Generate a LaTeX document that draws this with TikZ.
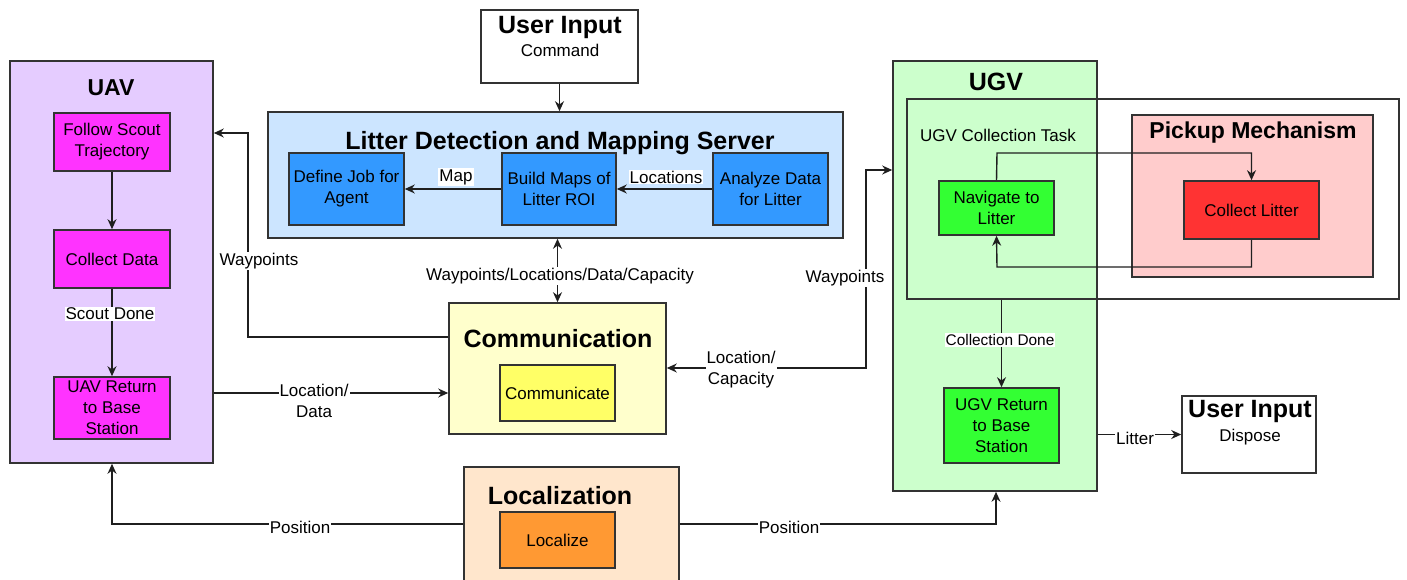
\documentclass[tikz,border=0pt]{standalone}
\usepackage{fontspec}
\setmainfont{Liberation Sans}
\usetikzlibrary{arrows.meta}
\definecolor{uavbg}{HTML}{E5CCFF}
\definecolor{uavin}{HTML}{FF33FF}
\definecolor{srvbg}{HTML}{CCE5FF}
\definecolor{srvin}{HTML}{3399FF}
\definecolor{combg}{HTML}{FFFFCC}
\definecolor{comin}{HTML}{FFFF66}
\definecolor{locbg}{HTML}{FFE6CC}
\definecolor{locin}{HTML}{FF9933}
\definecolor{ugvbg}{HTML}{CCFFCC}
\definecolor{ugvin}{HTML}{33FF33}
\definecolor{pkbg}{HTML}{FFCCCC}
\definecolor{pkin}{HTML}{FF3333}
\tikzset{
 box/.style={draw=black!80, line width=1.6pt, inner sep=0pt, align=center, font=\fontsize{17}{21}\selectfont},
 ttl/.style={font=\fontsize{25}{28}\bfseries\selectfont, inner sep=0pt},
 txt/.style={font=\fontsize{17}{21}\selectfont, inner sep=0pt, align=center},
 lbl/.style={font=\fontsize{17}{21}\selectfont, fill=white, inner sep=1pt, align=center},
 con/.style={draw=black!88, line width=1.4pt, -{Stealth[length=10pt,width=9pt]}},
 dcon/.style={draw=black!88, line width=1.4pt, {Stealth[length=10pt,width=9pt]}-{Stealth[length=10pt,width=9pt]}},
}
\newcommand\mybox[7]{\node[box,#6,minimum width={(#4-#2)*1pt},minimum height={(#5-#3)*1pt}] (#1) at ({(#2+#4)/2},{(#3+#5)/2}) {#7};}
\begin{document}
\begin{tikzpicture}[x=1pt,y=-1pt]
\clip (0,0) rectangle (1407,580);
\fill[white] (0,0) rectangle (1407,580);
% UAV
\mybox{uav}{10}{61}{213}{463}{fill=uavbg}{}
\node[ttl,font=\fontsize{23}{26}\bfseries\selectfont] (uavT) at (111,88) {UAV};
\mybox{fst}{54}{113}{170}{171}{fill=uavin}{Follow Scout\\Trajectory}
\mybox{cd}{54}{230}{170}{288}{fill=uavin}{Collect Data}
\mybox{uret}{54}{377}{170}{439}{fill=uavin}{UAV Return\\to Base\\Station}
% User input top
\mybox{ui1}{481}{10}{638}{83}{fill=white}{}
\node[ttl] (ui1T) at (560,27) {User Input};
\node[txt] (ui1C) at (560,50) {Command};
% Server
\mybox{srv}{268}{112}{843}{238}{fill=srvbg}{}
\node[ttl] (srvT) at (560,143) {Litter Detection and Mapping Server};
\mybox{dj}{289}{153}{404}{225}{fill=srvin}{Define Job for\\Agent}
\mybox{bm}{502}{153}{616}{225}{fill=srvin}{Build Maps of\\Litter ROI}
\mybox{ad}{713}{153}{828}{225}{fill=srvin}{Analyze Data\\for Litter}
% Communication
\mybox{comm}{449}{303}{666}{434}{fill=combg}{}
\node[ttl] (commT) at (558,339) {Communication};
\mybox{cm}{500}{365}{615}{421}{fill=comin}{Communicate}
% Localization
\mybox{loc}{464}{467}{679}{590}{fill=locbg}{}
\node[ttl] (locT) at (560,496) {Localization};
\mybox{lz}{500}{512}{615}{568}{fill=locin}{Localize}
% UGV
\mybox{ugv}{893}{61}{1097}{491}{fill=ugvbg}{}
\node[ttl] (ugvT) at (996,82) {UGV};
\mybox{task}{907}{99}{1399}{299}{}{}
\node[txt] (taskT) at (998,135) {UGV Collection Task};
\mybox{pk}{1132}{115}{1373}{277}{fill=pkbg}{}
\node[ttl,font=\fontsize{23}{26}\bfseries\selectfont] (pkT) at (1253,133) {Pickup Mechanism};
\mybox{nav}{939}{181}{1054}{235}{fill=ugvin}{Navigate to\\Litter}
\mybox{cl}{1184}{181}{1319}{239}{fill=pkin}{Collect Litter}
\mybox{ugr}{944}{388}{1059}{463}{fill=ugvin}{UGV Return\\to Base\\Station}
% User input bottom
\mybox{ui2}{1182}{396}{1316}{473}{fill=white}{}
\node[ttl] (ui2T) at (1250,411) {User Input};
\node[txt] (ui2C) at (1250,437) {Dispose};
% coordinates
\coordinate (w1) at (248,337);
\coordinate (w2) at (248,133);
\coordinate (r1) at (866,368);
\coordinate (r2) at (866,170);
\coordinate (p1) at (112,524);
\coordinate (p2) at (996,524);
\coordinate (t1) at (997,153);
\coordinate (t2) at (997,267);
% connectors
\draw[con] (fst) -- (cd);
\draw[con] (cd) -- (uret);
\draw[con] (ui1.south) -- (ui1.south |- srv.north);
\draw[con] (ad) -- (bm);
\draw[con] (bm) -- (dj);
\draw[dcon] (comm.north |- srv.south) -- (comm.north);
\draw[con] (comm.west |- w1) -- (w1) -- (w2) -- (uav.east |- w2);
\draw[con] (uav.east |- cm.west) -- (comm.west |- cm.west);
\draw[dcon] (comm.east |- r1) -- (r1) -- (r2) -- (ugv.west |- r2);
\draw[con] (loc.west |- p1) -- (p1) -- (uav.south -| p1);
\draw[con] (loc.east |- p2) -- (p2) -- (ugv.south -| p2);
\draw[con] (nav.north) -- (t1) -- (t1 -| cl.north) -- (cl.north);
\draw[con] (cl.south) -- (t2 -| cl.south) -- (t2) -- (nav.south);
\draw[con] (task.south -| ugr.north) -- (ugr.north);
\draw[con] (ugv.east |- ui2.west) -- (ui2.west);
% labels
\node[lbl] (lsd) at (110,314) {Scout Done};
\node[lbl] (lmap) at (456,177) {Map};
\node[lbl] (lloc) at (666,177) {Locations};
\node[lbl] (lwlc) at (560,276) {Waypoints/Locations/Data/Capacity};
\node[lbl] (lwp1) at (259,261) {Waypoints};
\node[lbl] (lld) at (314,401) {Location/\\Data};
\node[lbl] (llc) at (741,370) {Location/\\Capacity};
\node[lbl] (lwp2) at (845,278) {Waypoints};
\node[lbl] (lcd) at (1000,340) {\fontsize{15.4}{18}\selectfont Collection Done};
\node[lbl] (llit) at (1135,438) {Litter};
\node[lbl] (lpos1) at (300,527) {Position};
\node[lbl] (lpos2) at (789,527) {Position};
\end{tikzpicture}
\end{document}
